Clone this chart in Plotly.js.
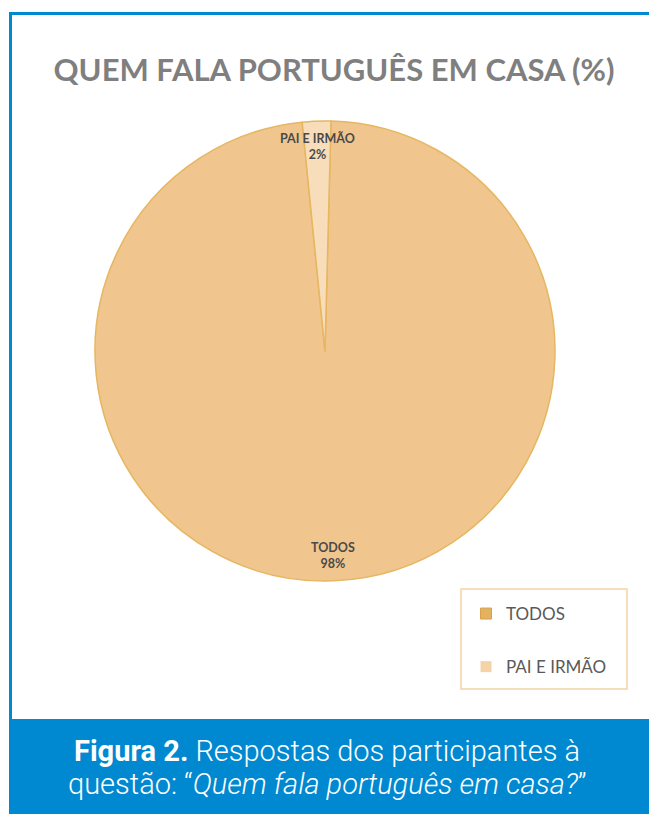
<!DOCTYPE html>
<html><head><meta charset="utf-8">
<script src="https://cdn.plot.ly/plotly-3.0.1.min.js"></script>
<style>html,body{margin:0;padding:0;background:#fff}#chart{width:649px;height:814px}</style>
</head><body><div id="chart"></div>
<script>
const categories = ["TODOS", "PAI E IRMÃO"];
const values = [98, 2];
const sliceColors = ["#F0C68E", "#F8DDBB"];
const legendColors = ["#E4B25E", "#F5D3A6"];

const W = 649, H = 814;
const px = v => v / W, py = v => 1 - v / H;
const dom = {x: [px(95), px(555)], y: [py(582), py(120)]};
const rot = 1.5;

const pie = {
  type: "pie", labels: categories, values: values, sort: false,
  direction: "clockwise", rotation: rot, textinfo: "none", hoverinfo: "label+percent",
  marker: {colors: sliceColors, line: {color: "#E6B660", width: 1.5}},
  domain: dom, showlegend: false
};

// legend entries via placeholder traces (one group per category)
const legendTraces = categories.map((c, i) => ({
  type: "scatter", x: [null], y: [null], mode: "markers", name: c,
  legendgroup: "g" + i,
  marker: {symbol: "square", size: 11, color: legendColors[i], line: {color: "#D9A14C", width: i === 0 ? 1 : 0}},
  hoverinfo: "skip"
}));

// slice labels positioned along each slice's mid-angle
const total = values.reduce((a, b) => a + b, 0);
const cx = (dom.x[0] + dom.x[1]) / 2 * W;
const cy = (1 - (dom.y[0] + dom.y[1]) / 2) * H;
const R = (dom.x[1] - dom.x[0]) * W / 2;
let cum = 0;
const labelAnns = categories.map((c, i) => {
  const mid = (cum + values[i] / 2) / total * 2 * Math.PI + rot * Math.PI / 180;
  cum += values[i];
  const r = 0.89 * R;
  const x = cx + r * Math.sin(mid), y = cy - r * Math.cos(mid);
  return {text: c + "<br>" + Math.round(values[i] / total * 100) + "%", x: x / W, y: 1 - y / H,
    xref: "paper", yref: "paper", showarrow: false, xanchor: "center", yanchor: "middle",
    font: {family: "Lato", size: 12.5, color: "#4a4a4a", weight: 700}};
});

const blue = "#0089D0";
const layout = {
  width: W, height: H, margin: {l: 0, r: 0, t: 0, b: 0},
  paper_bgcolor: "#fff", plot_bgcolor: "#fff",
  xaxis: {visible: false}, yaxis: {visible: false},
  title: {text: "QUEM FALA PORTUGUÊS EM CASA (%)", x: px(334), y: py(70), xanchor: "center", yanchor: "middle",
    font: {family: "Lato", size: 31, color: "#7F7F7F", weight: 700}},
  showlegend: true,
  legend: {x: px(466), y: py(596), xanchor: "left", yanchor: "top", traceorder: "grouped",
    tracegroupgap: 28, bgcolor: "rgba(0,0,0,0)", borderwidth: 0,
    font: {family: "Lato", size: 17, color: "#595959"}, itemclick: false, itemdoubleclick: false},
  shapes: [
    {type: "line", xref: "paper", yref: "paper", x0: px(10.5), x1: px(10.5), y0: py(12), y1: py(720), line: {color: blue, width: 3}},
    {type: "line", xref: "paper", yref: "paper", x0: px(9), x1: 1, y0: py(13.5), y1: py(13.5), line: {color: blue, width: 3}},
    {type: "rect", xref: "paper", yref: "paper", x0: px(9), x1: 1, y0: py(719), y1: 0, fillcolor: blue, line: {width: 0}, layer: "below"},
    {type: "rect", xref: "paper", yref: "paper", x0: px(461), x1: px(627), y0: py(589), y1: py(689), fillcolor: "rgba(0,0,0,0)", line: {color: "#F2D3A4", width: 1.5}}
  ],
  annotations: labelAnns.concat([
    {text: "<b>Figura 2.</b> Respostas dos participantes à", x: px(327), y: py(751), xref: "paper", yref: "paper",
      showarrow: false, xanchor: "center", yanchor: "middle", font: {family: "Roboto", size: 29, color: "#fff", weight: 300}},
    {text: "questão: “<i>Quem fala português em casa?</i>”", x: px(327), y: py(784), xref: "paper", yref: "paper",
      showarrow: false, xanchor: "center", yanchor: "middle", font: {family: "Roboto", size: 29, color: "#fff", weight: 300}}
  ])
};

Plotly.newPlot("chart", [pie].concat(legendTraces), layout, {displayModeBar: false, staticPlot: true});
</script></body></html>
